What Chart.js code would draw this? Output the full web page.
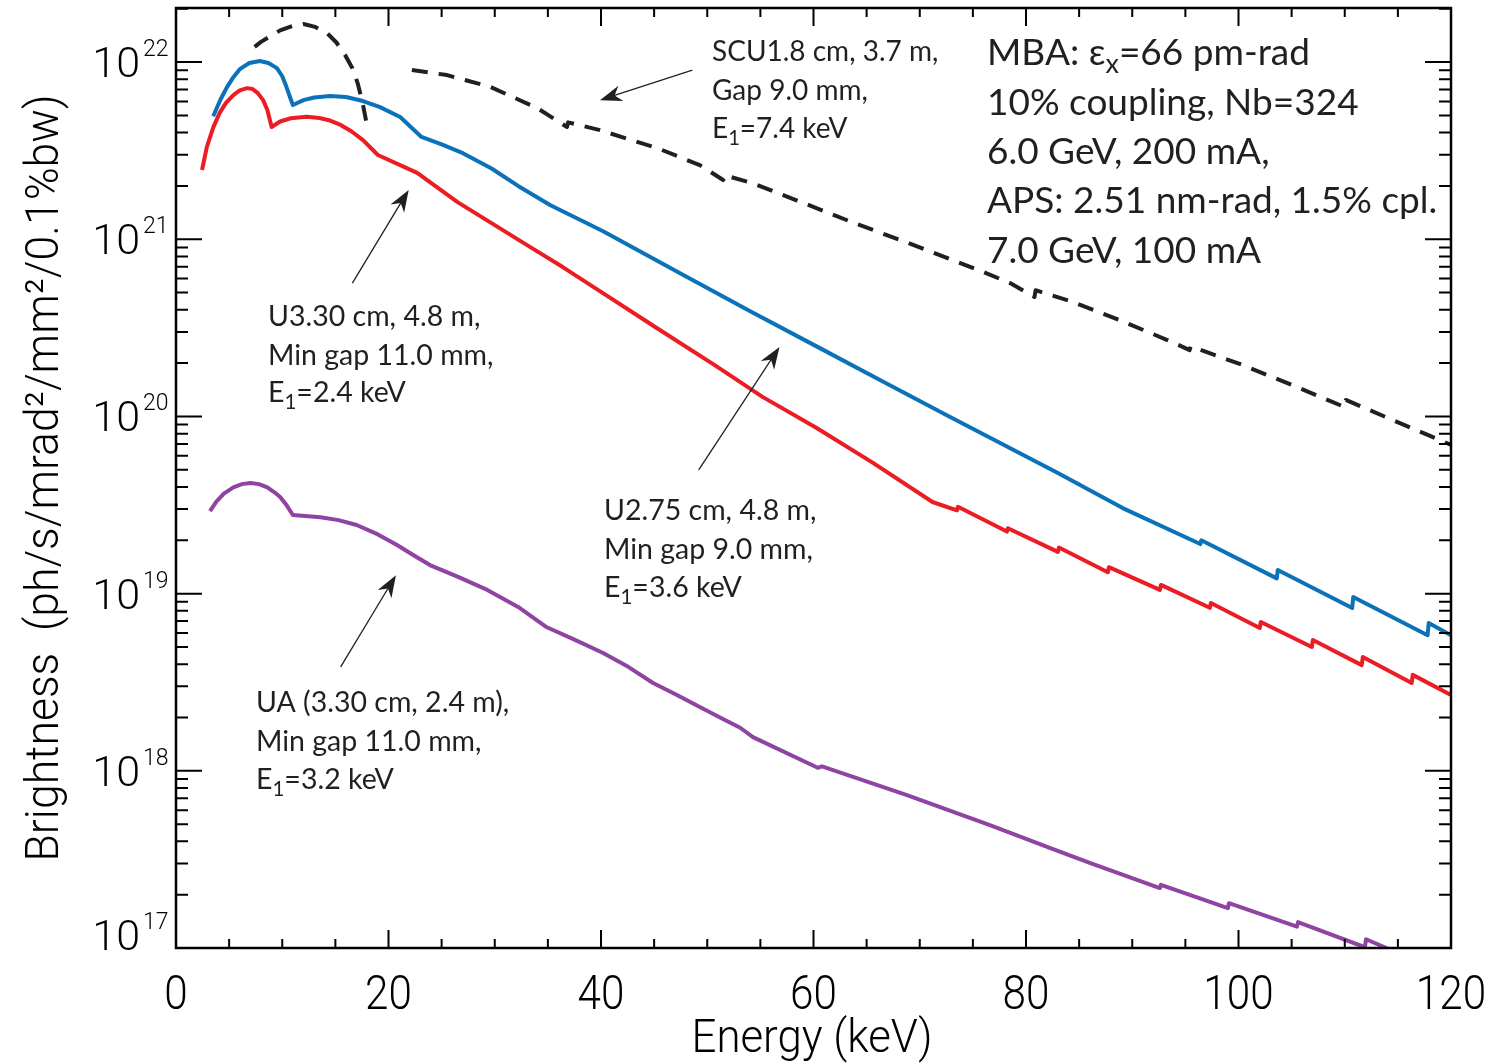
<!DOCTYPE html>
<html lang="en">
<head>
    <meta charset="UTF-8">
    <title>Undulator Brightness</title>
    <script src="https://cdn.jsdelivr.net/npm/chart.js"></script>
    <style>
        body { margin: 0; background: #fff; }
        #wrap { width: 1495px; height: 1064px; }
    </style>
</head>
<body>
    <div id="wrap"><canvas id="brightChart"></canvas></div>
    <script>
        // U2.75 cm, 4.8 m (blue)
        const u275E = [3.5, 4.2, 4.8, 5.4, 6.0, 6.9, 7.9, 8.7, 9.5, 10.0, 10.4, 10.8, 11.0, 12.0, 13.0, 14.5, 16.0, 17.6, 19.2, 21.1, 23.1, 25.0, 27.0, 29.7, 32.2, 35.2, 40.2, 47.7, 54.0, 60.6, 66.3, 72.5, 83.0, 89.1, 96.4, 96.5, 103.6, 103.7, 110.7, 110.8, 117.8, 117.9, 120];
        const u275B = [4.95e21, 6.17e21, 7.23e21, 8.22e21, 9.12e21, 9.89e21, 1.014e22, 9.89e21, 9.25e21, 8.32e21, 7.23e21, 6.17e21, 5.73e21, 6.10e21, 6.31e21, 6.43e21, 6.35e21, 6.03e21, 5.57e21, 4.90e21, 3.78e21, 3.43e21, 3.06e21, 2.51e21, 2.0e21, 1.56e21, 1.11e21, 6.31e20, 3.94e20, 2.43e20, 1.60e20, 1.02e20, 4.80e19, 3.04e19, 1.905e19, 2.0e19, 1.22e19, 1.36e19, 8.30e18, 9.57e18, 5.83e18, 6.82e18, 5.83e18];

        // U3.30 cm, 4.8 m (red)
        const u330E = [2.45, 2.9, 3.5, 4.1, 4.7, 5.4, 6.0, 6.7, 7.2, 7.7, 8.2, 8.6, 9.0, 9.8, 10.8, 12.3, 13.5, 14.5, 15.5, 16.5, 17.6, 19.0, 22.7, 26.5, 33.5, 36.4, 40.0, 45.1, 50.7, 55.2, 60.3, 65.6, 71.2, 73.5, 73.6, 78.2, 78.3, 83.0, 83.1, 87.7, 87.8, 92.6, 92.7, 97.3, 97.4, 102.0, 102.1, 106.9, 107.0, 111.6, 111.7, 116.3, 116.4, 120];
        const u330B = [2.46e21, 3.31e21, 4.27e21, 5.15e21, 5.89e21, 6.52e21, 6.92e21, 7.13e21, 7.05e21, 6.68e21, 6.10e21, 5.36e21, 4.30e21, 4.62e21, 4.82e21, 4.92e21, 4.84e21, 4.68e21, 4.42e21, 4.07e21, 3.63e21, 2.99e21, 2.37e21, 1.62e21, 8.91e20, 6.97e20, 5.05e20, 3.20e20, 1.95e20, 1.29e20, 8.61e19, 5.47e19, 3.29e19, 2.95e19, 3.09e19, 2.24e19, 2.34e19, 1.72e19, 1.82e19, 1.32e19, 1.41e19, 1.05e19, 1.12e19, 8.32e18, 8.85e18, 6.40e18, 6.92e18, 5.00e18, 5.47e18, 3.95e18, 4.39e18, 3.13e18, 3.48e18, 2.68e18];

        // UA 3.30 cm, 2.4 m (purple)
        const uaE = [3.2, 3.8, 4.5, 5.4, 6.2, 7.0, 7.8, 8.6, 9.3, 9.8, 10.4, 11.0, 13.6, 15.3, 17.0, 19.0, 20.8, 22.4, 23.9, 26.6, 29.3, 32.2, 34.9, 37.5, 40.2, 42.6, 44.9, 47.1, 49.3, 51.2, 53.1, 54.3, 59.4, 60.4, 60.8, 68.8, 76.6, 82.3, 86.0, 92.6, 92.7, 99.0, 99.1, 105.5, 105.6, 111.9, 112.0, 114.5];
        const uaB = [2.92e19, 3.31e19, 3.67e19, 3.98e19, 4.15e19, 4.21e19, 4.15e19, 3.98e19, 3.72e19, 3.51e19, 3.16e19, 2.78e19, 2.70e19, 2.60e19, 2.44e19, 2.16e19, 1.88e19, 1.64e19, 1.45e19, 1.24e19, 1.05e19, 8.41e18, 6.46e18, 5.50e18, 4.62e18, 3.85e18, 3.13e18, 2.69e18, 2.29e18, 2.0e18, 1.75e18, 1.55e18, 1.11e18, 1.04e18, 1.06e18, 7.30e17, 4.94e17, 3.66e17, 3.02e17, 2.18e17, 2.27e17, 1.68e17, 1.79e17, 1.32e17, 1.40e17, 1.01e17, 1.12e17, 9.66e16];

        // SCU 1.8 cm, 3.7 m (black dashed), two pieces
        const scuLowE = [7.4, 8.0, 8.7, 9.8, 11.0, 12.0, 13.1, 14.2, 15.1, 15.9, 16.6, 17.1, 17.6, 18.0];
        const scuLowB = [1.22e22, 1.30e22, 1.38e22, 1.51e22, 1.60e22, 1.64e22, 1.58e22, 1.46e22, 1.29e22, 1.10e22, 9.23e21, 7.59e21, 5.75e21, 4.30e21];
        const scuHighE = [22.2, 25.5, 29.6, 34.0, 36.8, 36.9, 39.9, 45.3, 49.3, 51.5, 51.6, 54.3, 58.4, 63.9, 68.2, 76.0, 78.5, 80.8, 80.9, 84.4, 88.8, 93.3, 95.4, 95.5, 100.4, 105.1, 110.0, 110.1, 114.5, 119.6, 120];
        const scuHighB = [9.02e21, 8.45e21, 7.24e21, 5.50e21, 4.30e21, 4.57e21, 4.13e21, 3.27e21, 2.62e21, 2.16e21, 2.30e21, 2.07e21, 1.66e21, 1.23e21, 9.89e20, 6.53e20, 5.66e20, 4.72e20, 5.16e20, 4.43e20, 3.50e20, 2.70e20, 2.37e20, 2.49e20, 1.95e20, 1.50e20, 1.13e20, 1.24e20, 9.55e19, 7.08e19, 6.92e19];

        const xTicks = [0, 20, 40, 60, 80, 100, 120];
        const yDecades = [17, 18, 19, 20, 21, 22];

        // arrows: [fromE, fromB, toE, toB]
        const arrows = [
            [48.6, 9.0e21, 39.9, 6.1e21],
            [16.6, 5.66e20, 21.9, 1.90e21],
            [49.2, 4.99e19, 56.8, 2.47e20],
            [15.5, 3.86e18, 20.7, 1.27e19]
        ];

        const ink = "#231f20";
        const thin = "Roboto, 'DejaVu Sans', sans-serif";

        function pts(xs, ys) {
            return xs.map((v, i) => ({ x: v, y: ys[i] }));
        }

        // draws text pieces: [text, size, dy]
        function rich(ctx, parts, x, y, family) {
            parts.forEach(p => {
                ctx.font = p[1] + "px " + family;
                ctx.fillText(p[0], x, y + p[2]);
                x += ctx.measureText(p[0]).width;
            });
        }

        // centered text squeezed to a given width (or scale)
        function squeezed(ctx, text, x, y, width, sx) {
            let w = ctx.measureText(text).width;
            let k = width ? width / w : sx;
            ctx.save();
            ctx.translate(x, y);
            ctx.scale(k, 1);
            ctx.textAlign = "center";
            ctx.fillText(text, 0, 0);
            ctx.restore();
        }

        function arrow(ctx, x1, y1, x2, y2) {
            let ang = Math.atan2(y2 - y1, x2 - x1);
            let len = 22, w = 8;
            ctx.strokeStyle = ink;
            ctx.lineWidth = 1.3;
            ctx.beginPath();
            ctx.moveTo(x1, y1);
            ctx.lineTo(x2 - Math.cos(ang) * 12, y2 - Math.sin(ang) * 12);
            ctx.stroke();
            ctx.save();
            ctx.translate(x2, y2);
            ctx.rotate(ang);
            ctx.fillStyle = ink;
            ctx.beginPath();
            ctx.moveTo(0, 0);
            ctx.lineTo(-len, -w);
            ctx.lineTo(-len * 0.7, 0);
            ctx.lineTo(-len, w);
            ctx.closePath();
            ctx.fill();
            ctx.restore();
        }

        const decor = {
            id: "decor",
            afterDraw(chart) {
                const ctx = chart.ctx;
                const a = chart.chartArea;
                const xs = chart.scales.x, ys = chart.scales.y;
                ctx.save();

                // frame
                ctx.strokeStyle = "#000";
                ctx.lineWidth = 2.5;
                ctx.strokeRect(a.left, a.top, a.right - a.left, a.bottom - a.top);

                // x ticks, top and bottom
                ctx.lineWidth = 2;
                for (let v = 0; v <= 120; v += 5) {
                    let px = xs.getPixelForValue(v);
                    let l = v % 20 === 0 ? 18 : 9;
                    ctx.beginPath();
                    ctx.moveTo(px, a.bottom); ctx.lineTo(px, a.bottom - l);
                    ctx.moveTo(px, a.top); ctx.lineTo(px, a.top + l);
                    ctx.stroke();
                }
                // y ticks, left and right
                yDecades.forEach(d => {
                    for (let k = 1; k <= 9; k++) {
                        let v = k * Math.pow(10, d);
                        if (v > ys.max) break;
                        let py = ys.getPixelForValue(v);
                        let l = k === 1 ? 26 : 12;
                        ctx.beginPath();
                        ctx.moveTo(a.left, py); ctx.lineTo(a.left + l, py);
                        ctx.moveTo(a.right, py); ctx.lineTo(a.right - l, py);
                        ctx.stroke();
                    }
                });

                // x tick labels
                ctx.fillStyle = "#000";
                ctx.textBaseline = "alphabetic";
                ctx.font = "300 48px " + thin;
                xTicks.forEach(v => squeezed(ctx, String(v), xs.getPixelForValue(v), 1009, 0, 0.88));

                // y tick labels 10^n
                yDecades.forEach(d => {
                    let py = ys.getPixelForValue(Math.pow(10, d));
                    let base = Math.min(py + 15, 950);
                    ctx.textAlign = "right";
                    ctx.font = "300 43px " + thin;
                    ctx.fillText("10", 140, base);
                    ctx.textAlign = "left";
                    ctx.font = "300 23px " + thin;
                    ctx.fillText(String(d), 143, base - 21);
                });

                // axis titles
                ctx.font = "300 46px " + thin;
                squeezed(ctx, "Energy (keV)", 812, 1052, 241);
                ctx.save();
                ctx.translate(58, 478);
                ctx.rotate(-Math.PI / 2);
                ctx.font = "300 46px " + thin;
                squeezed(ctx, "Brightness  (ph/s/mrad\u00b2/mm\u00b2/0.1%bw)", 0, 0, 767);
                ctx.restore();

                // annotations
                ctx.fillStyle = ink;
                ctx.textAlign = "left";
                const f = "Lato, 'Open Sans', sans-serif";
                const sub = (num, rest, s) => [["E", s, 0], [num, s * 0.72, 7], [rest, s, 0]];

                rich(ctx, [["SCU1.8 cm, 3.7 m,", 28, 0]], 712, 61, f);
                rich(ctx, [["Gap 9.0 mm,", 28, 0]], 712, 100, f);
                rich(ctx, sub("1", "=7.4 keV", 28), 712, 138, f);

                rich(ctx, [["U3.30 cm, 4.8 m,", 28.5, 0]], 268, 326, f);
                rich(ctx, [["Min gap 11.0 mm,", 28.5, 0]], 268, 365, f);
                rich(ctx, sub("1", "=2.4 keV", 28.5), 268, 402, f);

                rich(ctx, [["U2.75 cm, 4.8 m,", 28.5, 0]], 604, 520, f);
                rich(ctx, [["Min gap 9.0 mm,", 28.5, 0]], 604, 559, f);
                rich(ctx, sub("1", "=3.6 keV", 28.5), 604, 597, f);

                rich(ctx, [["UA (3.30 cm, 2.4 m),", 28.5, 0]], 256, 712, f);
                rich(ctx, [["Min gap 11.0 mm,", 28.5, 0]], 256, 751, f);
                rich(ctx, sub("1", "=3.2 keV", 28.5), 256, 789, f);

                rich(ctx, [["MBA: \u025b", 37, 0], ["x", 27, 8], ["=66 pm-rad", 37, 0]], 987, 65, f);
                rich(ctx, [["10% coupling, Nb=324", 37, 0]], 987, 115, f);
                rich(ctx, [["6.0 GeV, 200 mA,", 37, 0]], 987, 164, f);
                rich(ctx, [["APS: 2.51 nm-rad, 1.5% cpl.", 37, 0]], 987, 213, f);
                rich(ctx, [["7.0 GeV, 100 mA", 37, 0]], 987, 263, f);

                arrows.forEach(r => arrow(ctx,
                    xs.getPixelForValue(r[0]), ys.getPixelForValue(r[1]),
                    xs.getPixelForValue(r[2]), ys.getPixelForValue(r[3])));

                ctx.restore();
            }
        };

        const lineStyle = { pointRadius: 0, borderWidth: 4, fill: false, tension: 0, borderJoinStyle: "round" };

        new Chart(document.getElementById("brightChart"), {
            type: "line",
            data: {
                datasets: [
                    Object.assign({ label: "SCU", data: pts(scuLowE, scuLowB), borderColor: ink, borderDash: [16, 11] }, lineStyle),
                    Object.assign({ label: "SCU b", data: pts(scuHighE, scuHighB), borderColor: ink, borderDash: [16, 11] }, lineStyle),
                    Object.assign({ label: "U2.75", data: pts(u275E, u275B), borderColor: "#0b72b9" }, lineStyle),
                    Object.assign({ label: "U3.30", data: pts(u330E, u330B), borderColor: "#ec1c24" }, lineStyle),
                    Object.assign({ label: "UA", data: pts(uaE, uaB), borderColor: "#8e44a0" }, lineStyle)
                ]
            },
            options: {
                responsive: true,
                maintainAspectRatio: false,
                animation: false,
                layout: { padding: { top: 8, right: 44, left: 0, bottom: 0 } },
                plugins: { legend: { display: false }, tooltip: { enabled: false } },
                scales: {
                    x: {
                        type: "linear", min: 0, max: 120,
                        grid: { display: false }, border: { display: false },
                        ticks: { display: false },
                        afterFit: s => { s.height = 116; }
                    },
                    y: {
                        type: "logarithmic", min: 1e17, max: 2.02e22,
                        grid: { display: false }, border: { display: false },
                        ticks: { display: false },
                        afterFit: s => { s.width = 176; }
                    }
                }
            },
            plugins: [decor]
        });
    </script>
</body>
</html>
